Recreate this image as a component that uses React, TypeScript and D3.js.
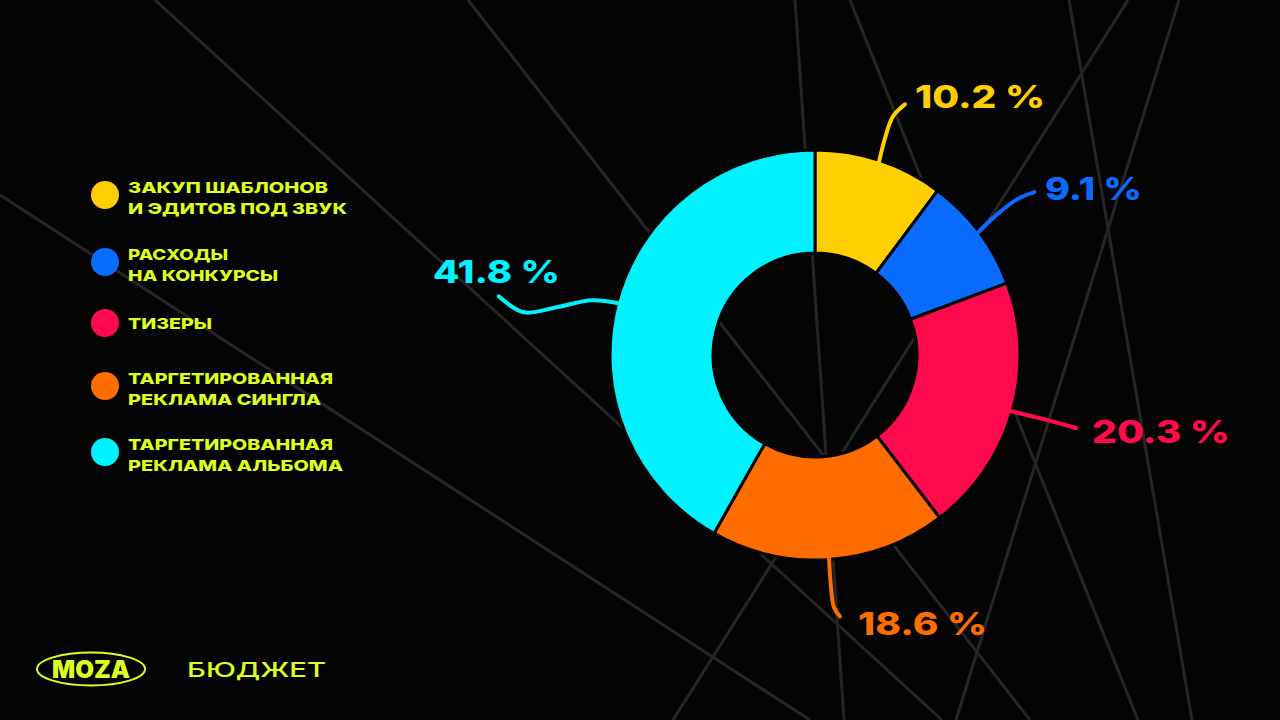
import React from "react";
import * as d3 from "d3";

// ---- data ----
const categories = [
  "ЗАКУП ШАБЛОНОВ|И ЭДИТОВ ПОД ЗВУК",
  "РАСХОДЫ|НА КОНКУРСЫ",
  "ТИЗЕРЫ",
  "ТАРГЕТИРОВАННАЯ|РЕКЛАМА СИНГЛА",
  "ТАРГЕТИРОВАННАЯ|РЕКЛАМА АЛЬБОМА",
];
const shares = [10.2, 9.1, 20.3, 18.6, 41.8];
const colors = ["#ffcf00", "#0a6cff", "#ff0a4c", "#ff6c00", "#00f2ff"];
const title = "БЮДЖЕТ";
const brand = "MOZA";

// ---- layout (not data) ----
const W = 1280;
const H = 720;
const CX = 815;
const CY = 355;
const R_OUT = 205;
const R_IN = 102;
const LIME = "#ddff1f";
const BG = "#040404";
const LINE = "#252525";
const FONT = "Inter, 'Liberation Sans', Arial, sans-serif";

// label text anchor (left x, baseline y, rendered width)
const labelPos = [
  { x: 915, y: 108, w: 130 },
  { x: 1045, y: 200, w: 97 },
  { x: 1092, y: 443, w: 138 },
  { x: 858, y: 635, w: 129 },
  { x: 433, y: 283, w: 127 },
];
const leaderOffsets = [
  [[0, 0], [6, -24], [14, -46], [26, -58]],
  [[0, 0], [20, -19], [40, -34], [57, -41]],
  [[0, 0], [33, 8], [66, 17]],
  [[0, 0], [2, 30], [5, 50], [11, 59]],
  [[0, 0], [-27, -3], [-62, 4], [-95, 9], [-120, -7]],
];
// rendered widths of legend lines
const legendWidths = [[200, 219], [100, 150], [84], [205, 193], [205, 215]];

// decorative background strokes
const bgLines = [
  [155, 0, 942, 720],
  [0, 195, 810, 720],
  [468, 0, 1030, 720],
  [795, 0, 844, 720],
  [850, 0, 1138, 720],
  [1069, 0, 1192, 720],
  [1128, 0, 673, 720],
  [1179, 0, 956, 720],
];

const legendY = [195, 262, 323, 386, 452];

export default function App() {
  const pie = d3
    .pie<number>()
    .value((d) => d)
    .sort(null)
    .startAngle(0)
    .endAngle(2 * Math.PI);
  const arcs = pie(shares);
  const arc = d3.arc<d3.PieArcDatum<number>>().innerRadius(R_IN).outerRadius(R_OUT);
  const lineGen = d3.line().curve(d3.curveCatmullRom.alpha(0.5));

  const fmt = (v: number) => `${v.toFixed(1)} %`;

  return (
    <svg
      width={W}
      height={H}
      style={{ position: "absolute", left: 0, top: 0, background: BG }}
    >
      <rect width={W} height={H} fill={BG} />
      {bgLines.map((l, i) => (
        <line
          key={i}
          x1={l[0]}
          y1={l[1]}
          x2={l[2]}
          y2={l[3]}
          stroke={LINE}
          strokeWidth={3}
        />
      ))}

      <g transform={`translate(${CX},${CY})`}>
        {arcs.map((a, i) => (
          <path key={i} d={arc(a) || ""} fill={colors[i]} stroke={BG} strokeWidth={3} />
        ))}
      </g>

      {arcs.map((a, i) => {
        const mid = (a.startAngle + a.endAngle) / 2;
        const sx = CX + Math.sin(mid) * (R_OUT - 2);
        const sy = CY - Math.cos(mid) * (R_OUT - 2);
        const pts = leaderOffsets[i].map(([dx, dy]) => [sx + dx, sy + dy]) as [number, number][];
        return (
          <g key={i}>
            <path
              d={lineGen(pts) || ""}
              fill="none"
              stroke={colors[i]}
              strokeWidth={4}
              strokeLinecap="round"
            />
            <text
              x={labelPos[i].x}
              y={labelPos[i].y}
              textLength={labelPos[i].w}
              lengthAdjust="spacingAndGlyphs"
              fill={colors[i]}
              fontFamily={FONT}
              fontWeight={800}
              fontSize={31.5}
            >
              {fmt(shares[i])}
            </text>
          </g>
        );
      })}

      {categories.map((c, i) => {
        const lines = c.split("|");
        const y0 = legendY[i];
        const top = lines.length === 2 ? y0 - 2 : y0 + 6;
        return (
          <g key={i}>
            <circle cx={105} cy={y0} r={14} fill={colors[i]} />
            {lines.map((t, j) => (
              <text
                key={j}
                x={128}
                y={top + j * 20.5}
                textLength={legendWidths[i][j]}
                lengthAdjust="spacingAndGlyphs"
                fill={LIME}
                fontFamily={FONT}
                fontWeight={800}
                fontSize={15.2}
              >
                {t}
              </text>
            ))}
          </g>
        );
      })}

      <g>
        <ellipse cx={91} cy={669} rx={54} ry={16.5} fill="none" stroke={LIME} strokeWidth={2} />
        <text
          x={52}
          y={678}
          textLength={78}
          lengthAdjust="spacingAndGlyphs"
          fill={LIME}
          fontFamily={FONT}
          fontWeight={900}
          fontSize={24}
        >
          {brand}
        </text>
        <text
          x={187}
          y={677}
          textLength={139}
          lengthAdjust="spacingAndGlyphs"
          fill={LIME}
          fontFamily={FONT}
          fontWeight={500}
          fontSize={20.5}
        >
          {title}
        </text>
      </g>
    </svg>
  );
}
